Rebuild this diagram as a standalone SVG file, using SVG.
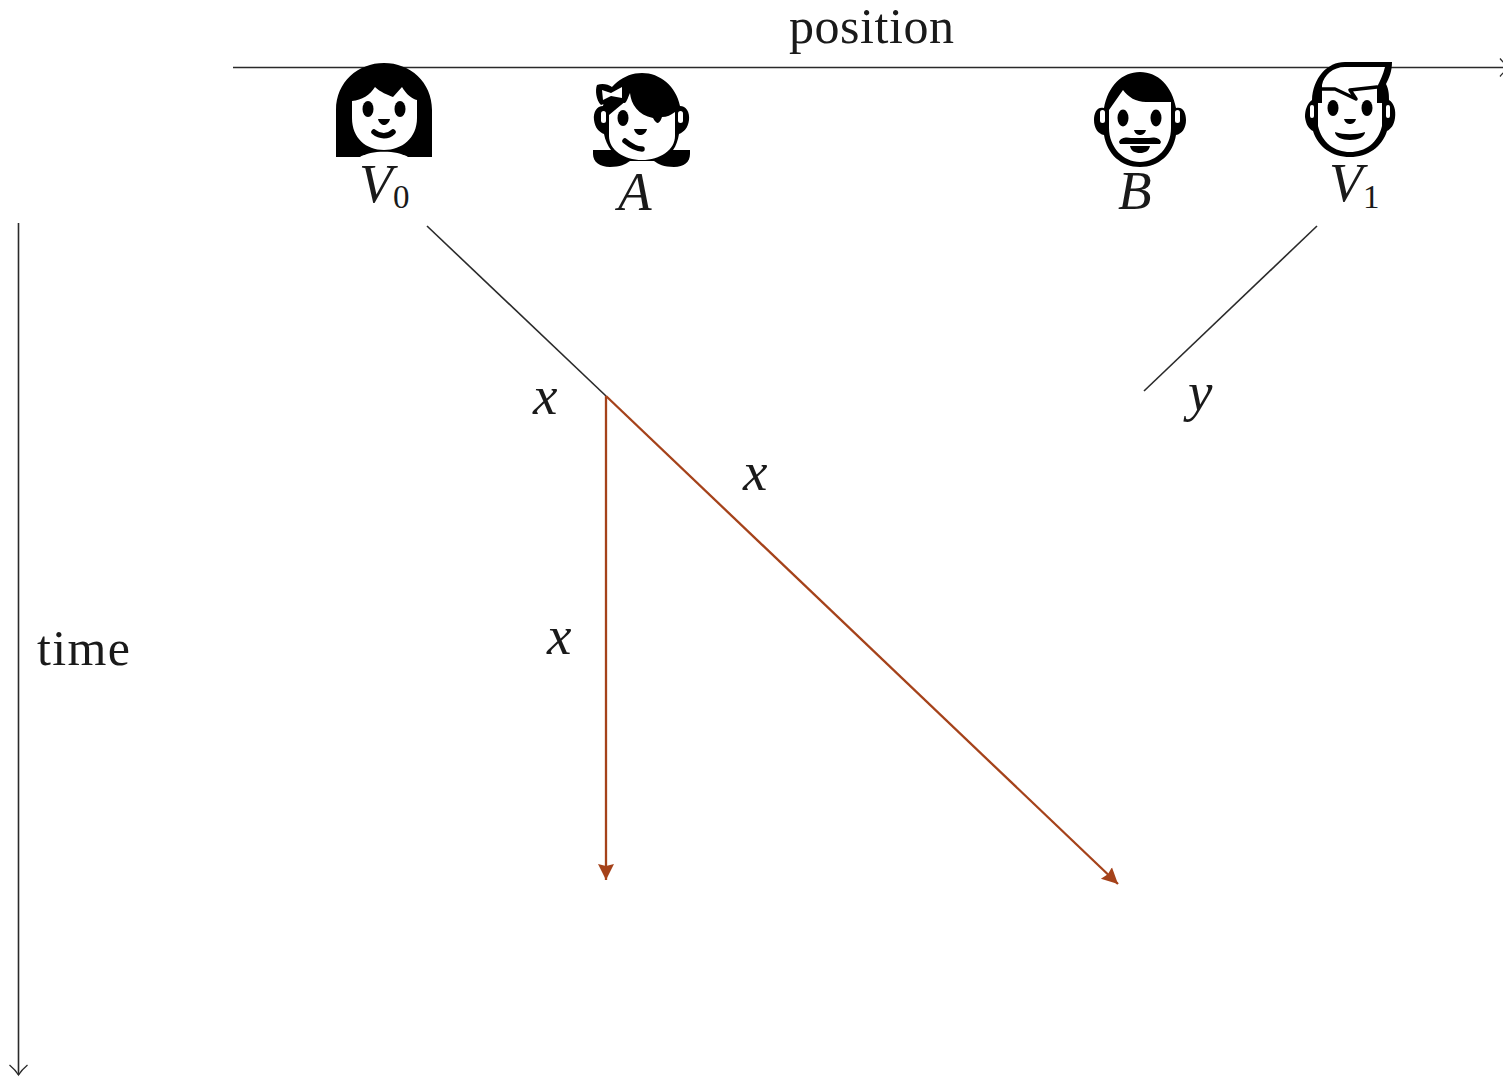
<svg xmlns="http://www.w3.org/2000/svg" width="1503" height="1079" viewBox="0 0 1503 1079">
<style>
.t{font-family:"Liberation Serif","DejaVu Serif",serif;fill:#1a1a1a;font-size:50px}
.m{font-family:"Liberation Serif","DejaVu Serif",serif;font-style:italic;font-size:55px;fill:#1a1a1a}
.s{font-family:"Liberation Serif","DejaVu Serif",serif;font-size:33px;fill:#1a1a1a}
.k{fill:none;stroke:#2a2a2a;stroke-width:1.600}
.r{fill:none;stroke:#a5421a;stroke-width:2.300}
.b{fill:#000}.w{fill:#fff}
.o{fill:none;stroke:#000;stroke-linecap:round;stroke-linejoin:round}
</style>
<defs>
<marker id="open" markerUnits="userSpaceOnUse" markerWidth="20" markerHeight="20" refX="13" refY="10" orient="auto"><path d="M3 1Q8 7 13 10Q8 13 3 19" fill="none" stroke="#2a2a2a" stroke-width="1.300"/></marker>
<marker id="tri" markerUnits="userSpaceOnUse" markerWidth="18" markerHeight="18" refX="16" refY="9" orient="auto"><path d="M0 1L16 9L0 17L2 9Z" fill="#a5421a"/></marker>
</defs>
<g id="connectors">
<path class="k" d="M233 67.500H1510" marker-end="url(#open)"/>
<path class="k" d="M18.500 223V1075" marker-end="url(#open)"/>
<path class="k" d="M427 226L606 396"/>
<path class="k" d="M1317 226L1144 391"/>
<path class="r" d="M606 396V880" marker-end="url(#tri)"/>
<path class="r" d="M606 396L1118 884" marker-end="url(#tri)"/>
</g>
<g id="axis-labels">
<text class="t" x="789" y="43" textLength="165" lengthAdjust="spacing">position</text>
<text class="t" x="37" y="665" textLength="93" lengthAdjust="spacing">time</text>
</g>
<g id="node-v0">
<path class="b" d="M336 157V110C336 82 358 63 384 63C410 63 432 82 432 110V157H408C402 152 366 152 360 157Z"/>
<path class="w" d="M352 101C362 100 370 95 375 87C380 92 388 95 393 97L402 87C406 94 412 99 417 100V118C417 138 402 150 384 150C366 150 352 138 352 118Z"/>
<path class="w" d="M362 157C368 150 400 150 406 157Z"/>
<ellipse class="b" cx="368" cy="109" rx="5.500" ry="8"/>
<ellipse class="b" cx="400" cy="109" rx="5.500" ry="8"/>
<path class="b" d="M378 119H390C389 123 386 125 384 125C382 125 379 123 378 119Z"/>
<path class="o" stroke-width="5.500" d="M374 132C380 137 388 137 393 132"/>
<text class="m" x="359" y="202">V</text><text class="s" x="393" y="208">0</text>
</g>
<g id="node-a">
<path class="b" d="M603 106C607 86 624 73 642 73C660 73 676 86 680 106C686 106 690 112 689 120C688 128 684 132 679 134C678 140 676 146 673 150H690V154C690 162 684 167 674 167C664 167 658 164 654 161H630C626 164 620 167 610 167C600 167 593 162 593 154V150H611C608 146 605 140 604 134C599 132 595 128 594 120C593 112 597 106 603 106Z"/>
<rect class="w" x="678" y="111" width="5" height="12" rx="2.500"/><rect class="w" x="601" y="111" width="5" height="12" rx="2.500"/>
<path class="w" d="M609 115L627 100L630 93C631 104 638 115 653 118C655 122 657 123 658 123C660 122 661 120 662 117C667 117 671 115 675 112V136C675 150 660 160 642 160C624 160 609 150 609 136Z"/>
<path class="b" d="M597 85C602 83 608 84 612 87L624 82C629 86 629 100 625 103L612 101L601 105C596 100 595 90 597 85Z"/>
<path class="w" d="M602 90L611 93L622 87V98L611 96L603 100Z"/>
<ellipse class="b" cx="623" cy="118" rx="5.500" ry="8"/>
<path class="b" d="M634 129H647C646 133 643 135 640 135C638 135 635 133 634 129Z"/>
<path class="o" stroke-width="5.500" d="M625 141C631 146 636 149 642 149"/>
<text class="m" x="618" y="210">A</text>
</g>
<g id="node-b">
<path class="b" d="M1104 108C1108 86 1122 72 1140 72C1158 72 1172 86 1176 108C1183 106 1186 113 1186 120C1186 128 1182 134 1176 135C1173 154 1159 167 1140 167C1121 167 1107 154 1104 135C1098 134 1094 128 1094 120C1094 113 1097 106 1104 108Z"/>
<rect class="w" x="1100" y="110" width="5" height="13" rx="2.500"/><rect class="w" x="1175" y="110" width="5" height="13" rx="2.500"/>
<path class="w" d="M1109 110L1123 90C1128 97 1136 102 1146 102H1171V128C1171 147 1157 162 1140 162C1123 162 1109 147 1109 128Z"/>
<ellipse class="b" cx="1123" cy="118" rx="5.500" ry="8.500"/>
<ellipse class="b" cx="1156" cy="118" rx="5.500" ry="8.500"/>
<path class="b" d="M1134 130H1146C1145 134 1142 135 1140 135C1138 135 1135 134 1134 130Z"/>
<path class="b" d="M1119 142C1121 137 1127 137 1131 138H1149C1153 137 1159 137 1161 142L1160 144H1120Z"/>
<path class="b" d="M1130 146H1150C1149 151 1145 153 1140 153C1135 153 1131 151 1130 146Z"/>
<text class="m" x="1118" y="209">B</text>
</g>
<g id="node-v1">
<path class="b" d="M1345 62H1392C1392 72 1389 78 1386 84C1389 90 1389 95 1389 100C1394 103 1396 110 1395 118C1394 125 1391 129 1387 131C1382 147 1368 157 1350 157C1332 157 1318 147 1313 131C1309 129 1306 125 1305 117C1305 110 1307 104 1312 100C1313 78 1327 62 1345 62Z"/>
<path class="w" d="M1345 67H1385C1383 75 1380 81 1377 87V103H1382V126C1378 143 1365 152 1350 152C1335 152 1322 143 1318 126V103H1322V85C1324 75 1333 67 1345 67Z"/>
<rect class="w" x="1310" y="105" width="4" height="13" rx="2"/><rect class="w" x="1386" y="105" width="4" height="13" rx="2"/>
<path class="o" stroke-width="3.500" d="M1322 89H1335L1356 99L1350 90L1377 87"/>
<ellipse class="b" cx="1333" cy="108" rx="5.500" ry="8"/>
<ellipse class="b" cx="1367" cy="108" rx="5.500" ry="8"/>
<path class="b" d="M1344 119H1356C1355 123 1352 124 1350 124C1348 124 1345 123 1344 119Z"/>
<path class="b" d="M1335 132C1344 135 1356 135 1365 132C1365 137 1358 140 1350 140C1342 140 1335 137 1335 132Z"/>
<text class="m" x="1329" y="201">V</text><text class="s" x="1363" y="208">1</text>
</g>
<g id="edge-labels">
<text class="m" x="533" y="414">x</text>
<text class="m" x="743" y="490">x</text>
<text class="m" x="547" y="654">x</text>
<text class="m" x="1188" y="410">y</text>
</g>
</svg>
